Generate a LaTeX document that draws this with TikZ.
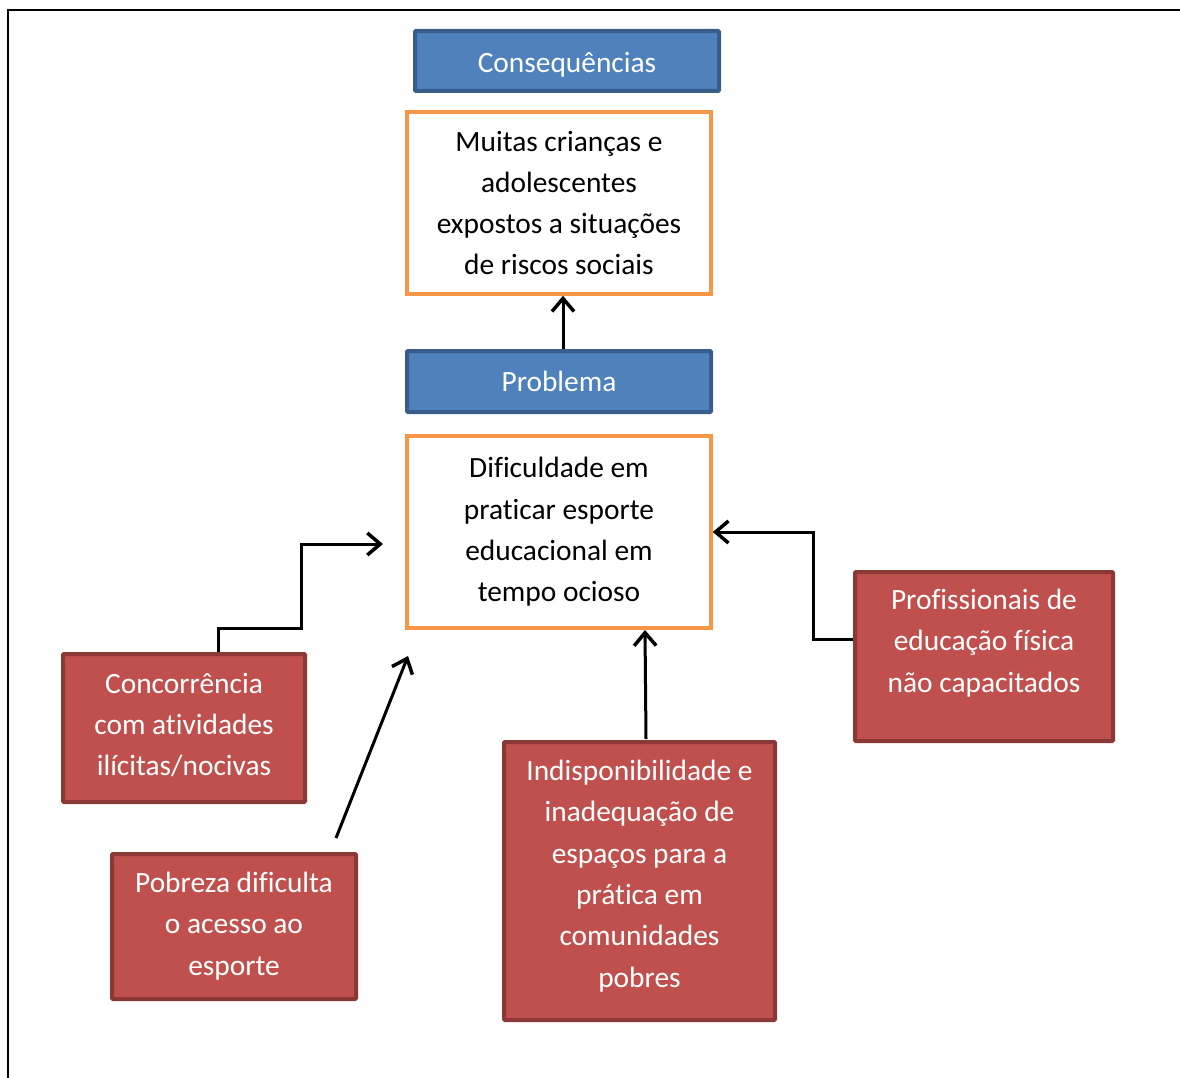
\documentclass[tikz,border=0pt]{standalone}
\usepackage{fontspec}
\setmainfont[Ligatures=NoCommon]{Carlito}
\usetikzlibrary{arrows.meta}
\definecolor{bluefill}{HTML}{4F81BD}
\definecolor{blueline}{HTML}{385D8A}
\definecolor{redfill}{HTML}{C0504D}
\definecolor{redline}{HTML}{8C3836}
\definecolor{orangeline}{HTML}{F79646}
\begin{document}
\begin{tikzpicture}[x=1pt,y=-1pt,
  bluebox/.style={draw=blueline,fill=bluefill,line width=4pt,rounded corners=1pt,text=white,font=\fontsize{29.4}{41.3}\selectfont},
  orangebox/.style={draw=orangeline,fill=white,line width=3.5pt,text=black,font=\fontsize{29.4}{41.3}\selectfont,align=center},
  redbox/.style={draw=redline,fill=redfill,line width=4pt,rounded corners=1pt},
  redtxt/.style={text=white,font=\fontsize{29.4}{41.3}\selectfont,align=center},
  conn/.style={draw=black,line width=3pt,-{Straight Barb[length=13pt,width=22pt,line width=3.5pt]}}]
\useasboundingbox (0,0) rectangle (1180,1078);
\draw[line width=2.5pt] (8,1078) -- (8,10) -- (1180,10);

\node[bluebox,minimum width=304,minimum height=60,text height=30pt,text depth=6pt] (cons) at (567,61) {Consequências};
\node[orangebox,minimum width=304,minimum height=182] (muitas) at (559,203)
  {Muitas crianças e\\adolescentes\\expostos a situações\\de riscos sociais};
\node[bluebox,minimum width=304,minimum height=61,text height=25pt,text depth=6pt] (prob) at (559,381.5) {Problema};
\node[orangebox,minimum width=304,minimum height=192] (dif) at (559,532)
  {Dificuldade em\\praticar esporte\\educacional em\\tempo ocioso};

\node[redbox,minimum width=242,minimum height=148] (conc) at (184,728) {};
\node[redtxt] (concT) at (184,725) {Concorrência\\com atividades\\ilícitas/nocivas};
\node[redbox,minimum width=244,minimum height=145] (pob) at (234,926.5) {};
\node[redtxt] (pobT) at (234,926) {Pobreza dificulta\\o acesso ao\\esporte};
\node[redbox,minimum width=271,minimum height=278] (ind) at (639.5,881) {};
\node[redtxt] (indT) at (639.5,876) {Indisponibilidade e\\inadequação de\\espaços para a\\prática em\\comunidades\\pobres};
\node[redbox,minimum width=258,minimum height=169] (prof) at (984,656.5) {};
\node[redtxt] (profT) at (984,643) {Profissionais de\\educação física\\não capacitados};

\coordinate (concEnd) at (383,544);
\coordinate (pobStart) at (336,838);
\coordinate (pobEnd) at (408,656);

\draw[conn] (prob.north -| muitas.south) ++(4,0) coordinate (pa) -- (pa |- muitas.south);
\draw[conn] (conc.north -| 218,0) -- (218,628) -- (301,628) -- (301,544) -- (concEnd);
\draw[conn] (pobStart) -- (pobEnd);
\draw[conn] (646,739) -- (645,630);
\draw[conn] (prof.west |- 0,639) -- (813,639) -- (813,532) -- (dif.east |- 0,532);
\end{tikzpicture}
\end{document}
